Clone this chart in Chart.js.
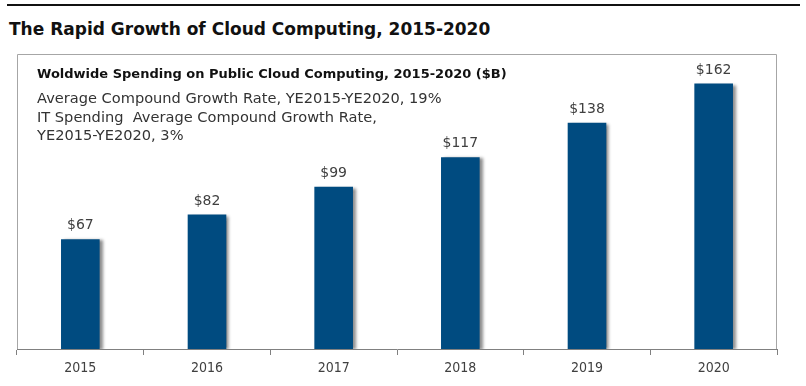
<!DOCTYPE html>
<html><head><meta charset="utf-8">
<script src="https://cdn.jsdelivr.net/npm/chart.js@4"></script>
<style>
html,body{margin:0;padding:0;background:#fff;width:806px;height:386px;overflow:hidden;font-family:"DejaVu Sans",sans-serif;}
#wrap{position:relative;width:806px;height:386px;}
#topline{position:absolute;left:7px;top:4px;width:793px;height:2px;background:#111;}
#title{position:absolute;left:9px;top:19px;font-weight:bold;font-size:17px;color:#111;white-space:nowrap;}
#sub{position:absolute;left:37px;top:66px;font-weight:bold;font-size:13px;color:#111;white-space:nowrap;}
.note{position:absolute;left:37px;font-size:14.6px;color:#333;white-space:nowrap;}
canvas{position:absolute;left:0;top:0;}
</style></head>
<body><div id="wrap">
<div id="topline"></div>
<div id="title">The Rapid Growth of Cloud Computing, 2015-2020</div>
<canvas id="c" width="806" height="386"></canvas>
<div id="sub">Woldwide Spending on Public Cloud Computing, 2015-2020 ($B)</div>
<div class="note" style="top:89px">Average Compound Growth Rate, YE2015-YE2020, 19%</div>
<div class="note" style="top:108px">IT Spending&nbsp; Average Compound Growth Rate,</div>
<div class="note" style="top:126px">YE2015-YE2020, 3%</div>
</div>
<script>
const categories = ["2015","2016","2017","2018","2019","2020"];
const spending = [67, 82, 99, 117, 138, 162];
const valuePrefix = "$";

const frame = {
  id:'frame',
  beforeDatasetsDraw(chart){
    const {ctx, chartArea:a} = chart;
    ctx.save();
    ctx.strokeStyle='#a6a6a6'; ctx.lineWidth=1;
    ctx.beginPath();
    ctx.moveTo(a.left+0.5,a.bottom); ctx.lineTo(a.left+0.5,a.top+0.5);
    ctx.lineTo(a.right-0.5,a.top+0.5); ctx.lineTo(a.right-0.5,a.bottom);
    ctx.stroke();
    ctx.restore();
    ctx.save();
    ctx.shadowColor='rgba(0,0,0,0.45)';
    ctx.shadowOffsetX=3; ctx.shadowOffsetY=1; ctx.shadowBlur=3;
  },
  afterDatasetsDraw(chart){
    const {ctx} = chart;
    ctx.restore();
    ctx.save();
    ctx.font='14px "DejaVu Sans"';
    ctx.fillStyle='#404040';
    ctx.textAlign='center'; ctx.textBaseline='alphabetic';
    chart.getDatasetMeta(0).data.forEach((bar,i)=>{
      ctx.fillText(valuePrefix+chart.data.datasets[0].data[i], bar.x, bar.y-10);
    });
    ctx.restore();
  }
};

new Chart(document.getElementById('c'),{
  type:'bar',
  data:{labels:categories,datasets:[{data:spending,backgroundColor:'#004b80',borderWidth:0,categoryPercentage:1,barPercentage:0.305}]},
  options:{
    responsive:false,animation:false,
    layout:{padding:{left:17,right:29,top:54,bottom:0}},
    plugins:{legend:{display:false},tooltip:{enabled:false},title:{display:false}},
    scales:{
      x:{
        offset:true,
        grid:{offset:true,drawOnChartArea:false,color:'#808080',tickLength:6,lineWidth:1},
        border:{display:true,color:'#808080',width:1},
        ticks:{color:'#404040',font:{family:'"DejaVu Sans Condensed"',size:14},padding:5},
        afterFit(s){s.height=37;}
      },
      y:{display:false,min:0,max:180}
    }
  },
  plugins:[frame]
});
</script>
</body></html>
